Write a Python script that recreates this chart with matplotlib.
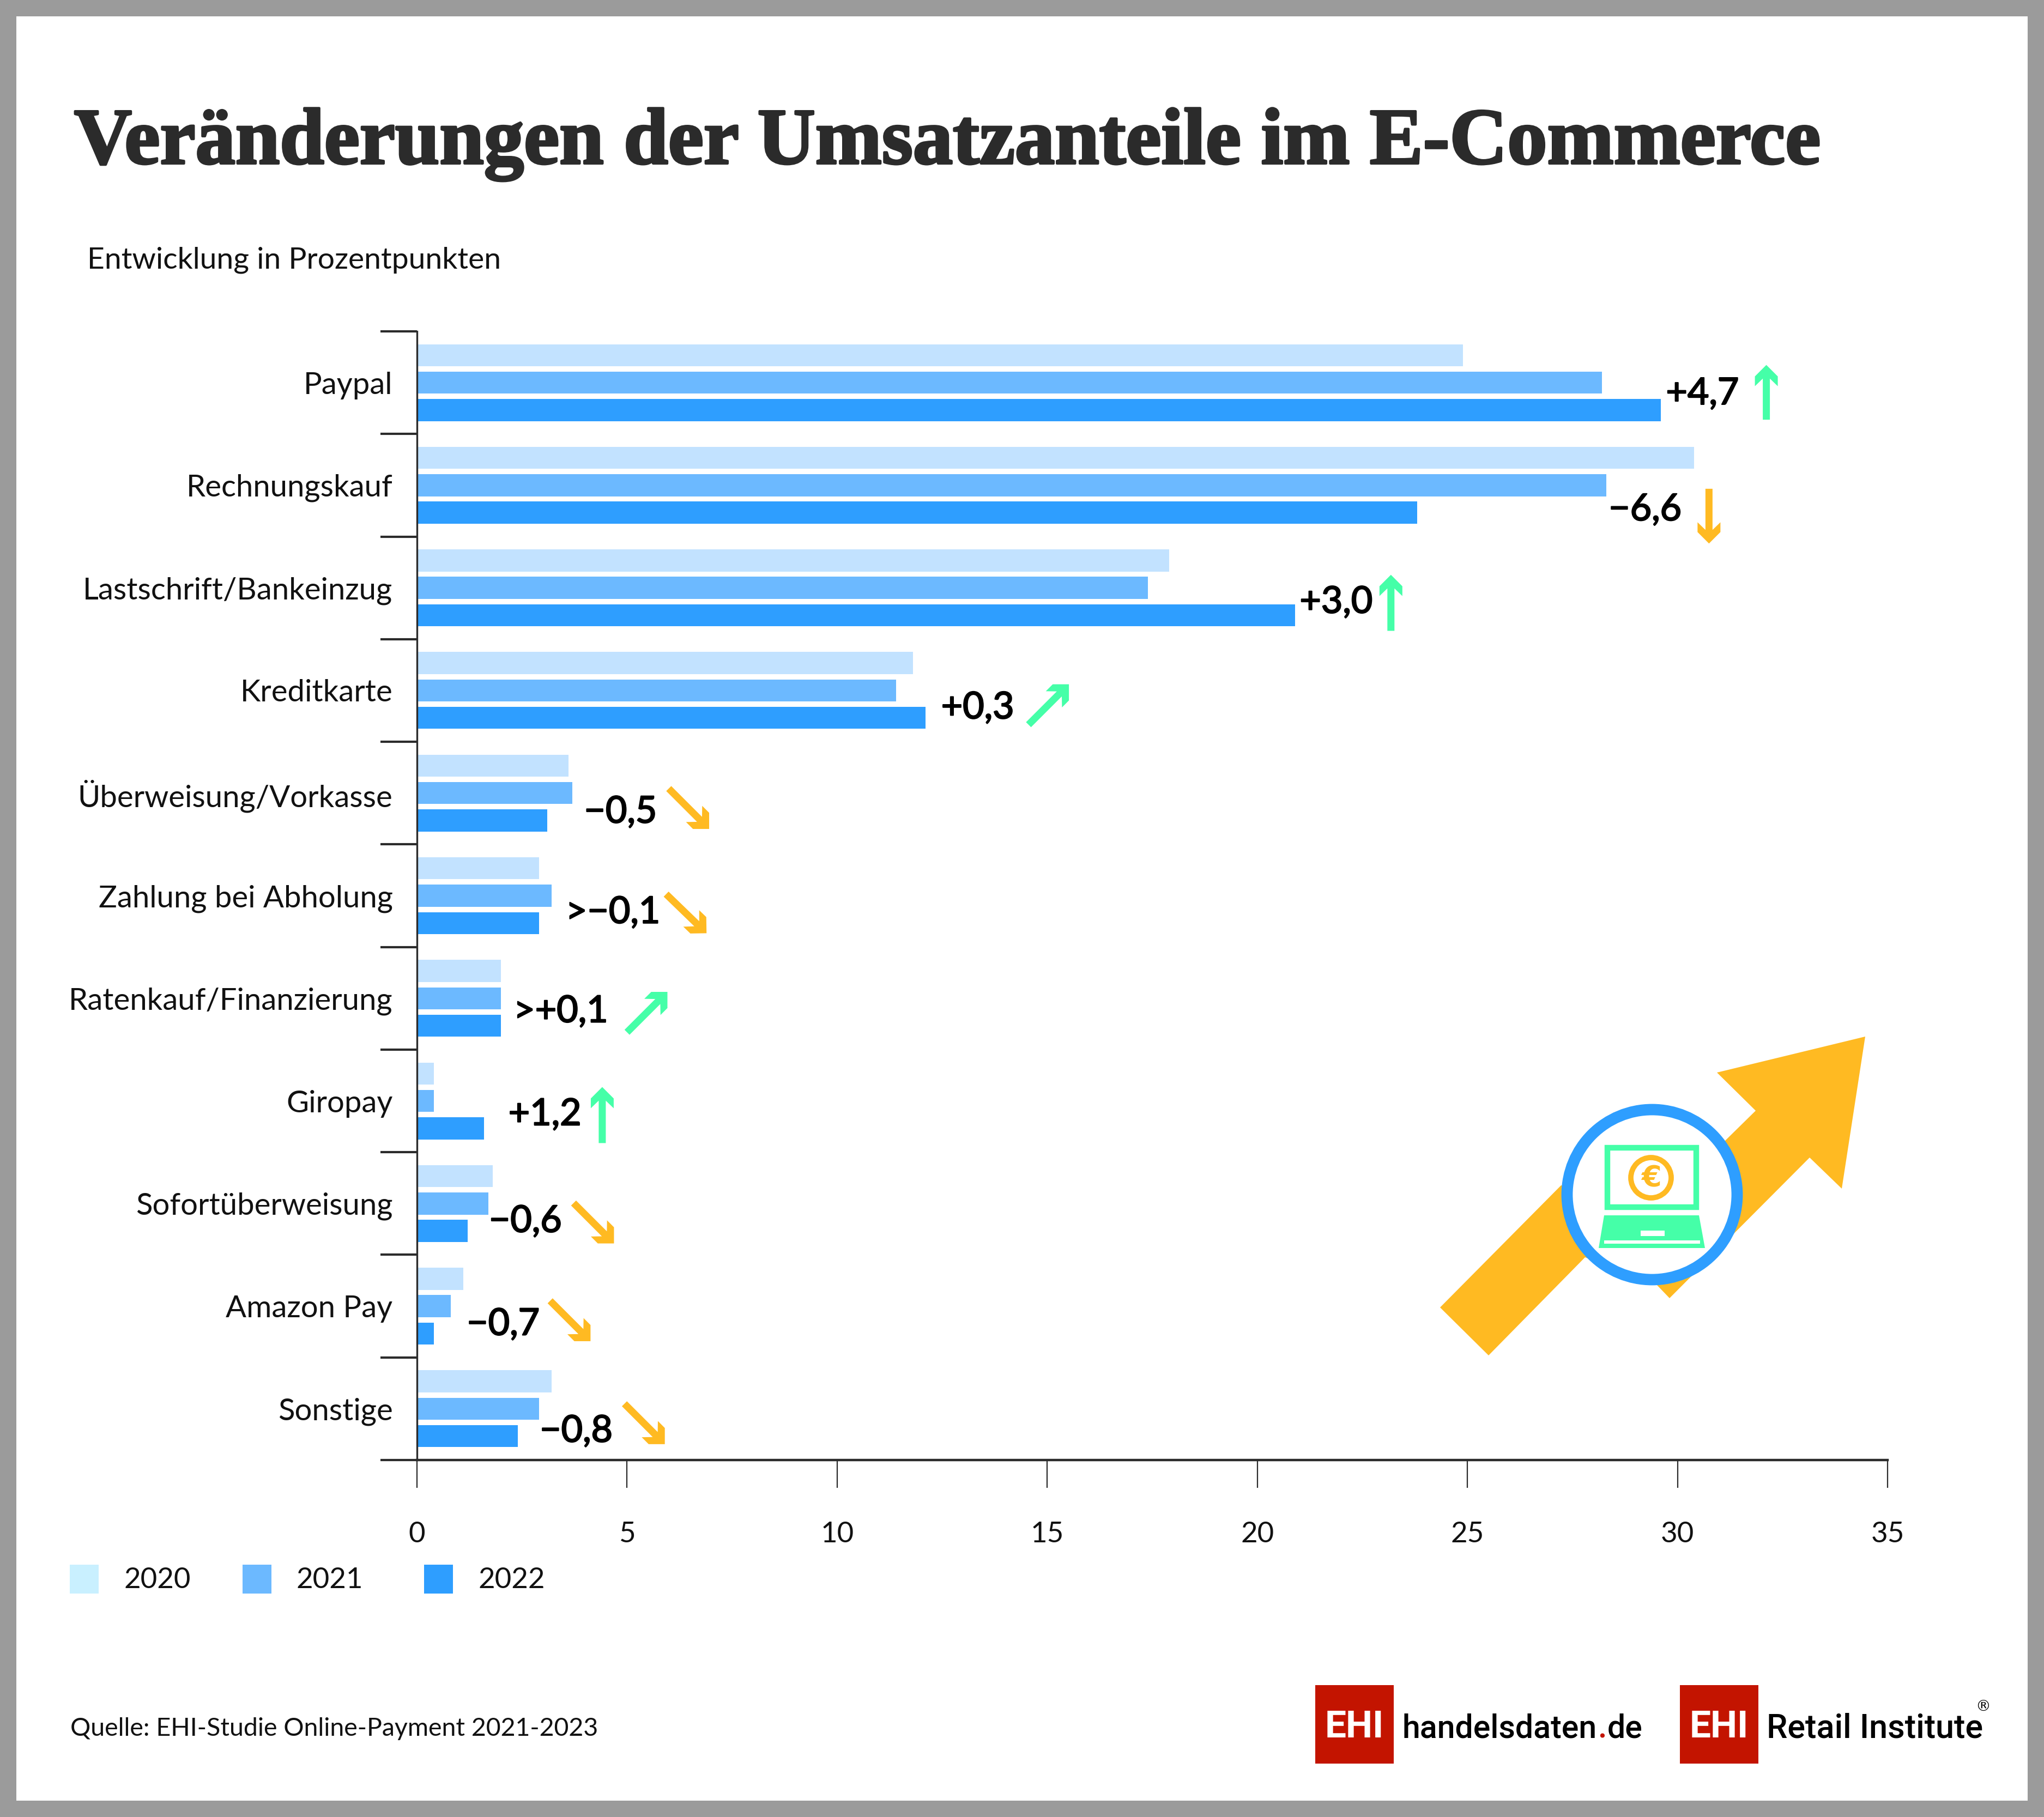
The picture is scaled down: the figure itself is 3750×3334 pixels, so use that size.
import numpy as np
import matplotlib
matplotlib.use('Agg')
import matplotlib.pyplot as plt
import matplotlib.patheffects as pe
from matplotlib.patches import Rectangle, Polygon, Circle

categories = ['Paypal', 'Rechnungskauf', 'Lastschrift/Bankeinzug', 'Kreditkarte',
              'Überweisung/Vorkasse', 'Zahlung bei Abholung', 'Ratenkauf/Finanzierung',
              'Giropay', 'Sofortüberweisung', 'Amazon Pay', 'Sonstige']
values_2020 = [24.9, 30.4, 17.9, 11.8, 3.6, 2.9, 2.0, 0.4, 1.8, 1.1, 3.2]
values_2021 = [28.2, 28.3, 17.4, 11.4, 3.7, 3.2, 2.0, 0.4, 1.7, 0.8, 2.9]
values_2022 = [29.6, 23.8, 20.9, 12.1, 3.1, 2.9, 2.0, 1.6, 1.2, 0.4, 2.4]
years = ['2020', '2021', '2022']
changes = ['+4,7', '\u22126,6', '+3,0', '+0,3', '\u22120,5', '>\u22120,1', '>+0,1',
           '+1,2', '\u22120,6', '\u22120,7', '\u22120,8']
xticks = [0, 5, 10, 15, 20, 25, 30, 35]

C20 = '#C2E2FF'
C20_LEG = '#C9F0FF'
C21 = '#6CB9FF'
C22 = '#2E9EFF'
ORANGE = '#FFBA22'
GREEN = '#45FFA8'
DARK = '#2B2B2B'
GREY = '#9B9B9B'
RED = '#C31400'

W, H = 3750, 3334
plt.rcParams['font.family'] = 'Lato'

fig = plt.figure(figsize=(W / 100, H / 100), dpi=100, facecolor='white')

# main chart
x0, x1, y0, y1 = 765, 3463, 608, 2679
ax = fig.add_axes([x0 / W, 1 - y1 / H, (x1 - x0) / W, (y1 - y0) / H])
ax.patch.set_alpha(0)
pos = np.arange(len(categories)) + 0.5
bar_h = 40.5 / 188.3
step = 50.3 / 188.3
ax.barh(pos - step, values_2020, height=bar_h, color=C20)
ax.barh(pos, values_2021, height=bar_h, color=C21)
ax.barh(pos + step, values_2022, height=bar_h, color=C22)
ax.set_xlim(0, 35)
ax.set_ylim(len(categories), 0)
for s in ['top', 'right']:
    ax.spines[s].set_visible(False)
ax.spines['left'].set_linewidth(2.4)
ax.spines['left'].set_color(DARK)
ax.spines['bottom'].set_linewidth(3.2)
ax.spines['bottom'].set_color(DARK)
ax.set_yticks(np.arange(len(categories) + 1))
ax.set_yticklabels([])
ax.set_yticks(pos, minor=True)
ax.set_yticklabels(categories, minor=True, fontsize=40.5, color='#111111')
ax.tick_params(axis='y', which='major', length=48, width=3, color=DARK)
ax.tick_params(axis='y', which='minor', length=0, pad=32)
ax.set_xticks(xticks)
ax.tick_params(axis='x', length=37, width=1.6, color=DARK, pad=44, labelsize=38, labelcolor='#111111')

# everything else is placed in pixel coordinates on a clear overlay
ov = fig.add_axes([0, 0, 1, 1], zorder=5)
ov.set_xlim(0, W)
ov.set_ylim(H, 0)
ov.axis('off')

ov.add_patch(Rectangle((15, 15), W - 30, H - 30, fill=False, ec=GREY, lw=21.6))

ov.text(136, 300, 'Veränderungen der Umsatzanteile im E-Commerce', family='Liberation Serif',
        weight='bold', fontsize=105.5, color=DARK, va='baseline',
        path_effects=[pe.withStroke(linewidth=3, foreground=DARK)])
ov.text(160, 477, 'Entwicklung in Prozentpunkten', fontsize=39.8, color='#111111', va='center')
ov.text(129, 3172, 'Quelle: EHI-Studie Online-Payment 2021-2023', fontsize=33.5, color='#111111', va='center')

# legend
leg_x = [128, 445, 778]
for x, c, yr in zip(leg_x, [C20_LEG, C21, C22], years):
    ov.add_patch(Rectangle((x, 2871), 53, 53, fc=c, ec='none'))
    ov.text(x + 99, 2899, yr, fontsize=38, color='#111111', va='center')

# change labels, in overview coordinates
S = W / 1568
label_x = [1278, 1234, 997, 722, 448, 434, 394, 390, 375, 358, 414]
label_y = [301, 390, 461, 542, 622, 699, 775, 854, 936, 1015, 1097]
for t, x, y in zip(changes, label_x, label_y):
    ov.text(x * S, y * S + 22, t, fontsize=49, color='black', va='baseline',
            path_effects=[pe.withStroke(linewidth=1.6, foreground='black')])


def arrow(ax_, xa, ya, xb, yb, color):
    a = np.array([xa, ya], float) * S
    b = np.array([xb, yb], float) * S
    u = (b - a) / np.hypot(*(b - a))
    n = np.array([-u[1], u[0]])
    pts = [a + n * 6.5, b - u * 25 + n * 6.5, b - u * 39 + n * 21, b - u * 21 + n * 21, b,
           b - u * 21 - n * 21, b - u * 39 - n * 21, b - u * 25 - n * 6.5, a - n * 6.5]
    ax_.add_patch(Polygon(pts, closed=True, fc=color, ec='none'))


arrows = [(1355, 322, 1355, 280, GREEN), (1311, 375, 1311, 417, ORANGE),
          (1067, 484, 1067, 441, GREEN), (789, 556, 820, 525, GREEN),
          (513, 605, 544, 636, ORANGE), (511, 686, 542, 716, ORANGE),
          (481, 792, 512, 761, GREEN), (462, 877, 462, 834, GREEN),
          (440, 923, 471, 954, ORANGE), (422, 998, 453, 1029, ORANGE),
          (479, 1077, 510, 1108, ORANGE)]
for a_ in arrows:
    arrow(ov, *a_)

# big arrow with laptop badge
big = [(3422, 1902), (3150, 1968), (3221, 2038), (3165, 2093), (2946, 2183), (2864, 2175),
       (2642, 2399), (2731, 2487), (2908, 2307), (3039, 2357), (3063, 2382), (3320, 2124),
       (3379, 2181)]
ov.add_patch(Polygon(big, closed=True, fc=ORANGE, ec='none'))
ov.add_patch(Circle((3031, 2192), 156, fc='white', ec=C22, lw=15))

ov.add_patch(Rectangle((2949, 2106), 163, 109, fc='white', ec=GREEN, lw=7.5))
ov.add_patch(Circle((3029, 2161), 37, fc='white', ec=ORANGE, lw=7))
ov.text(3029, 2162, '€', fontsize=38, weight='bold', color=ORANGE, ha='center', va='center', family='DejaVu Sans')
ov.add_patch(Polygon([(2943, 2230), (3117, 2230), (3128, 2290), (2933, 2290)], closed=True, fc=GREEN, ec='none'))
ov.add_patch(Rectangle((3010, 2258), 44, 10, fc='white', ec='none'))
ov.add_patch(Rectangle((2943, 2276), 176, 6, fc='white', ec='none'))

# logos
for x in [2413, 3082]:
    ov.add_patch(Rectangle((x, 3092), 144, 144, fc=RED, ec='none'))
    ov.text(x + 72, 3188, 'EHI', fontsize=50, weight='bold', color='white', ha='center', va='baseline',
            family='Roboto')
logo_font = dict(family='Roboto', weight='medium', va='baseline')
renderer = fig.canvas.get_renderer()
xpos = 2573
for part, col in [('handelsdaten', 'black'), ('.', RED), ('de', 'black')]:
    t = ov.text(xpos, 3188, part, color=col, fontsize=42.5, **logo_font)
    xpos = t.get_window_extent(renderer).x1 + 1
ov.text(3241, 3188, 'Retail Institute', color='black', fontsize=44, **logo_font)
ov.text(3638, 3132, '®', family='DejaVu Sans', fontsize=20, color='black', ha='center', va='center')

fig.savefig('out.png', dpi=100)
